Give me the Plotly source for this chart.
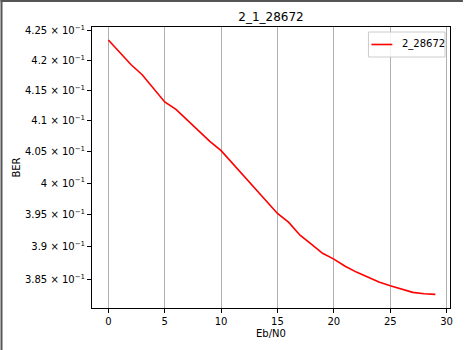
import plotly.graph_objects as go
import math

# Data
ebn0 = list(range(30))
ber = [0.4234, 0.4214, 0.4193, 0.4176, 0.4154, 0.4131, 0.4119, 0.4102,
       0.4085, 0.4067, 0.4052, 0.4032, 0.4012, 0.3992, 0.3972, 0.3952,
       0.3938, 0.3918, 0.3904, 0.3890, 0.3881, 0.3870, 0.3861, 0.3853,
       0.3846, 0.3840, 0.3835, 0.3830, 0.3828, 0.3827]
series_name = "2_28672"
title_text = "2_1_28672"
ytick_vals = [0.385, 0.39, 0.395, 0.40, 0.405, 0.41, 0.415, 0.42, 0.425]
ytick_mant = ["3.85", "3.9", "3.95", "4", "4.05", "4.1", "4.15", "4.2", "4.25"]
xtick_vals = [0, 5, 10, 15, 20, 25, 30]

W, H = 465, 350
L, R, T, B = 92, 452, 27, 308  # plot area pixel box

fig = go.Figure()
fig.add_trace(go.Scatter(x=ebn0, y=ber, mode="lines", name=series_name,
                         line=dict(color="red", width=1.6), showlegend=False))

font = dict(family="DejaVu Sans", size=10, color="black")

def px_x(p):
    return (p - L) / (R - L)

def px_y(p):
    return (B - p) / (B - T)

fig.update_layout(
    width=W, height=H,
    margin=dict(l=L, r=W - R, t=T, b=H - B, pad=0),
    paper_bgcolor="white", plot_bgcolor="white",
    font=font,
    title=dict(text=title_text, x=0.5, xref="paper", xanchor="center",
               y=1 - 17 / H, yanchor="middle",
               font=dict(family="DejaVu Sans", size=12, color="black")),
    showlegend=False,
    xaxis=dict(range=[-1.45, 30.3], tickvals=xtick_vals,
               ticks="outside", ticklen=4, tickwidth=1, tickcolor="black",
               showline=True, linecolor="black", linewidth=1, mirror=True,
               showgrid=True, gridcolor="#b0b0b0", gridwidth=1,
               zeroline=False,
               title=dict(text="Eb/N0", standoff=3,
                          font=dict(family="DejaVu Sans", size=10)),
               tickfont=font),
    yaxis=dict(type="log",
               range=[math.log10(0.380631), math.log10(0.4256)],
               tickvals=ytick_vals,
               ticktext=[m + " × 10<sup>−1</sup>" for m in ytick_mant],
               ticks="outside", ticklen=4, tickwidth=1, tickcolor="black",
               showline=True, linecolor="black", linewidth=1, mirror=True,
               showgrid=False, zeroline=False,
               title=dict(text="BER", standoff=2,
                          font=dict(family="DejaVu Sans", size=10)),
               tickfont=font),
    shapes=[
        # window frame
        dict(type="line", xref="paper", yref="paper",
             x0=px_x(0), x1=px_x(W), y0=px_y(1), y1=px_y(1),
             line=dict(color="#555555", width=2)),
        dict(type="line", xref="paper", yref="paper",
             x0=px_x(1), x1=px_x(1), y0=px_y(0), y1=px_y(H),
             line=dict(color="#555555", width=2)),
        # legend box
        dict(type="rect", xref="paper", yref="paper",
             x0=px_x(370), x1=px_x(447), y0=px_y(57), y1=px_y(32),
             fillcolor="rgba(255,255,255,0.85)",
             line=dict(color="#cccccc", width=1)),
        dict(type="line", xref="paper", yref="paper",
             x0=px_x(373), x1=px_x(394), y0=px_y(44.5), y1=px_y(44.5),
             line=dict(color="red", width=1.6)),
    ],
    annotations=[
        dict(text=series_name, xref="paper", yref="paper",
             x=px_x(402), y=px_y(44.5), xanchor="left", yanchor="middle",
             showarrow=False, font=font),
    ],
)

fig.write_html("out.html")
